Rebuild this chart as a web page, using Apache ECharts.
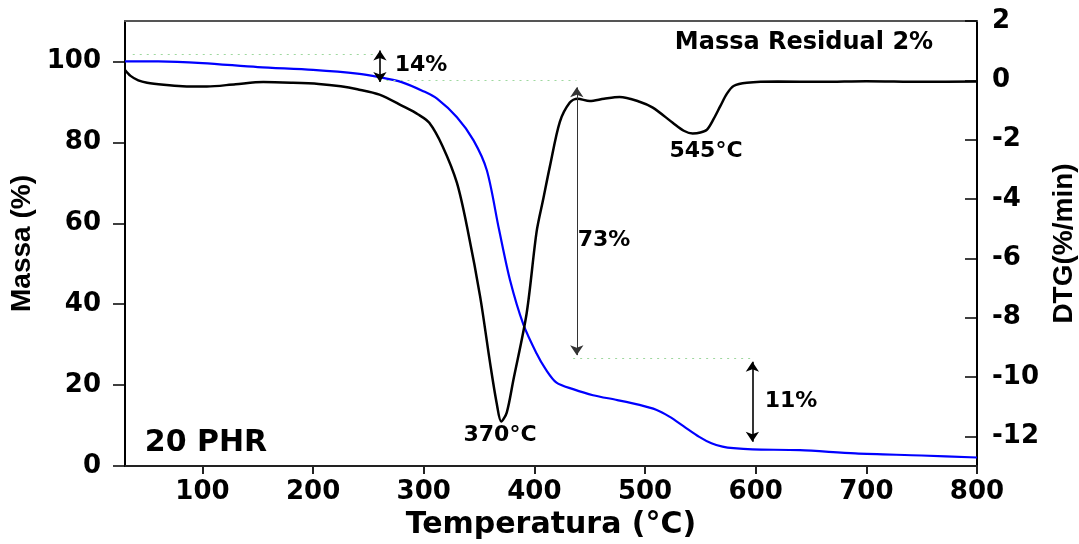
<!DOCTYPE html>
<html>
<head>
<meta charset="utf-8">
<script src="https://cdn.jsdelivr.net/npm/echarts@6/dist/echarts.min.js"></script>
<style>
  html, body { margin: 0; padding: 0; background: #fff; }
  #main { width: 1079px; height: 544px; }
</style>
</head>
<body>
<div id="main"></div>
<script>
// curva TG (massa %, eixo esquerdo)
const tgTemp = [30, 60, 100, 150, 200, 240, 260, 280, 300, 312, 330, 345, 357, 368, 378, 390, 402, 410, 420, 435, 453, 475, 495, 510, 522, 535, 549, 560, 570, 580, 597, 640, 690, 750, 800]
const tgMass = [100, 100, 99.6, 98.6, 97.9, 97.0, 96.1, 94.9, 92.6, 90.8, 86.2, 80.5, 73.1, 58.5, 45.9, 35, 27.8, 24, 20.6, 19, 17.5, 16.3, 15.1, 13.9, 12.2, 9.8, 7.2, 5.6, 4.8, 4.4, 4.1, 3.9, 3.1, 2.6, 2.1]

// curva DTG (%/min, eixo direito)
const dtgTemp = [30, 35, 42, 50, 65, 82, 104, 130, 155, 180, 205, 225, 240, 260, 281, 295, 305, 317, 330, 340, 351, 360, 366, 370, 375, 381, 393, 402, 408, 414, 423, 432, 439, 450, 463, 477, 495, 507, 525, 535, 543, 550, 556, 562, 568, 574, 580, 592, 620, 660, 700, 750, 800]
const dtgVal = [0.35, 0.15, 0.0, -0.08, -0.15, -0.2, -0.21, -0.13, -0.06, -0.08, -0.12, -0.2, -0.3, -0.48, -0.87, -1.15, -1.43, -2.22, -3.46, -5.1, -7.3, -9.54, -10.9, -11.5, -11.2, -10.1, -7.85, -5.1, -4.0, -2.9, -1.4, -0.75, -0.62, -0.7, -0.62, -0.56, -0.72, -0.92, -1.43, -1.7, -1.79, -1.76, -1.66, -1.3, -0.87, -0.45, -0.19, -0.08, -0.04, -0.05, -0.03, -0.05, -0.04]

const xTicks = [100, 200, 300, 400, 500, 600, 700, 800]
const massTicks = [0, 20, 40, 60, 80, 100]
const dtgTicks = [-12, -10, -8, -6, -4, -2, 0, 2]

// setas de perda de massa: [temperatura, massa inicio, massa fim]
const arrows = [
  [260.4, 102.7, 94.9],
  [438.3, 93.6, 27.4],
  [597, 25.8, 6.0],
]
// linhas pontilhadas: [t1, t2, massa]
const guides = [
  [37, 258.5, 101.9],
  [260, 438, 95.3],
  [435, 597.6, 26.7],
]

const font = 'DejaVu Sans'
const nameFont = '"Liberation Sans", Arial, sans-serif'
const tick = { color: '#000', fontSize: 26, fontWeight: 'bold', fontFamily: font }

const markData = []
guides.forEach(g => {
  markData.push([
    { coord: [g[0], g[2]], symbol: 'none', lineStyle: { color: '#9fd89f', type: [2, 5], width: 1.2 } },
    { coord: [g[1], g[2]], symbol: 'none' },
  ])
})
arrows.forEach((a, i) => {
  markData.push([
    { coord: [a[0], a[1]], symbol: 'arrow', lineStyle: { color: i === 1 ? '#333' : '#000', type: 'solid', width: i === 1 ? 1 : 1.6 } },
    { coord: [a[0], a[2]], symbol: 'arrow' },
  ])
})

function txt(x, y, text, size) {
  return {
    type: 'text', x, y,
    style: { text, fill: '#000', font: `bold ${size}px "${font}"`, textAlign: 'center', textVerticalAlign: 'middle' },
  }
}

const chart = echarts.init(document.getElementById('main'))
chart.setOption({
  animation: false,
  grid: { left: 125, right: 102, top: 21, bottom: 78, containLabel: false, outerBoundsMode: 'none' },
  xAxis: [
    {
      type: 'value', min: 30, max: 800,
      name: 'Temperatura (°C)', nameLocation: 'middle', nameGap: 43,
      nameTextStyle: { color: '#000', fontSize: 30, fontWeight: 'bold', fontFamily: font },
      axisLine: { onZero: false, lineStyle: { color: '#222', width: 2 } },
      axisTick: { length: 8, lineStyle: { color: '#222', width: 2 }, customValues: xTicks },
      axisLabel: { ...tick, margin: 13, customValues: xTicks },
      splitLine: { show: false },
    },
    {
      type: 'value', min: 30, max: 800, position: 'top',
      axisLine: { show: true, onZero: false, lineStyle: { color: '#555', width: 2 } },
      axisTick: { show: false }, axisLabel: { show: false }, splitLine: { show: false },
    },
  ],
  yAxis: [
    {
      type: 'value', min: 0, max: 110, position: 'left',
      name: 'Massa (%)', nameLocation: 'middle', nameGap: 85, nameRotate: 90,
      nameTextStyle: { color: '#000', fontSize: 28, fontWeight: 'bold', fontFamily: nameFont },
      axisLine: { show: true, onZero: false, lineStyle: { color: '#000', width: 2 } },
      axisTick: { show: true, length: 12, lineStyle: { color: '#000', width: 1.5 }, customValues: massTicks },
      axisLabel: { ...tick, margin: 24, customValues: massTicks },
      splitLine: { show: false },
    },
    {
      type: 'value', min: -13, max: 2, position: 'right',
      name: 'DTG(%/min)', nameLocation: 'middle', nameGap: 68, nameRotate: 90,
      nameTextStyle: { color: '#000', fontSize: 28, fontWeight: 'bold', fontFamily: nameFont },
      axisLine: { show: true, onZero: false, lineStyle: { color: '#000', width: 2 } },
      axisTick: { show: true, inside: true, length: 12, lineStyle: { color: '#000', width: 1.5 }, customValues: dtgTicks },
      axisLabel: { ...tick, margin: 15, customValues: dtgTicks },
      splitLine: { show: false },
    },
  ],
  series: [
    {
      name: 'TG', type: 'line', xAxisIndex: 0, yAxisIndex: 0,
      data: tgTemp.map((t, i) => [t, tgMass[i]]),
      showSymbol: false, smooth: 0.3,
      lineStyle: { color: '#0000ff', width: 2.2 },
      markLine: {
        silent: true, symbolSize: 10, label: { show: false },
        data: markData,
      },
    },
    {
      name: 'DTG', type: 'line', xAxisIndex: 0, yAxisIndex: 1,
      data: dtgTemp.map((t, i) => [t, dtgVal[i]]),
      showSymbol: false, smooth: 0.3,
      lineStyle: { color: '#000', width: 2.5 },
    },
  ],
  graphic: [
    txt(804, 43, 'Massa Residual 2%', 24),
    txt(421, 65, '14%', 22),
    txt(604, 240, '73%', 22),
    txt(791, 401, '11%', 22),
    txt(706, 151, '545°C', 22),
    txt(500, 435, '370°C', 22),
    txt(206, 443, '20 PHR', 30),
  ],
})
</script>
</body>
</html>
